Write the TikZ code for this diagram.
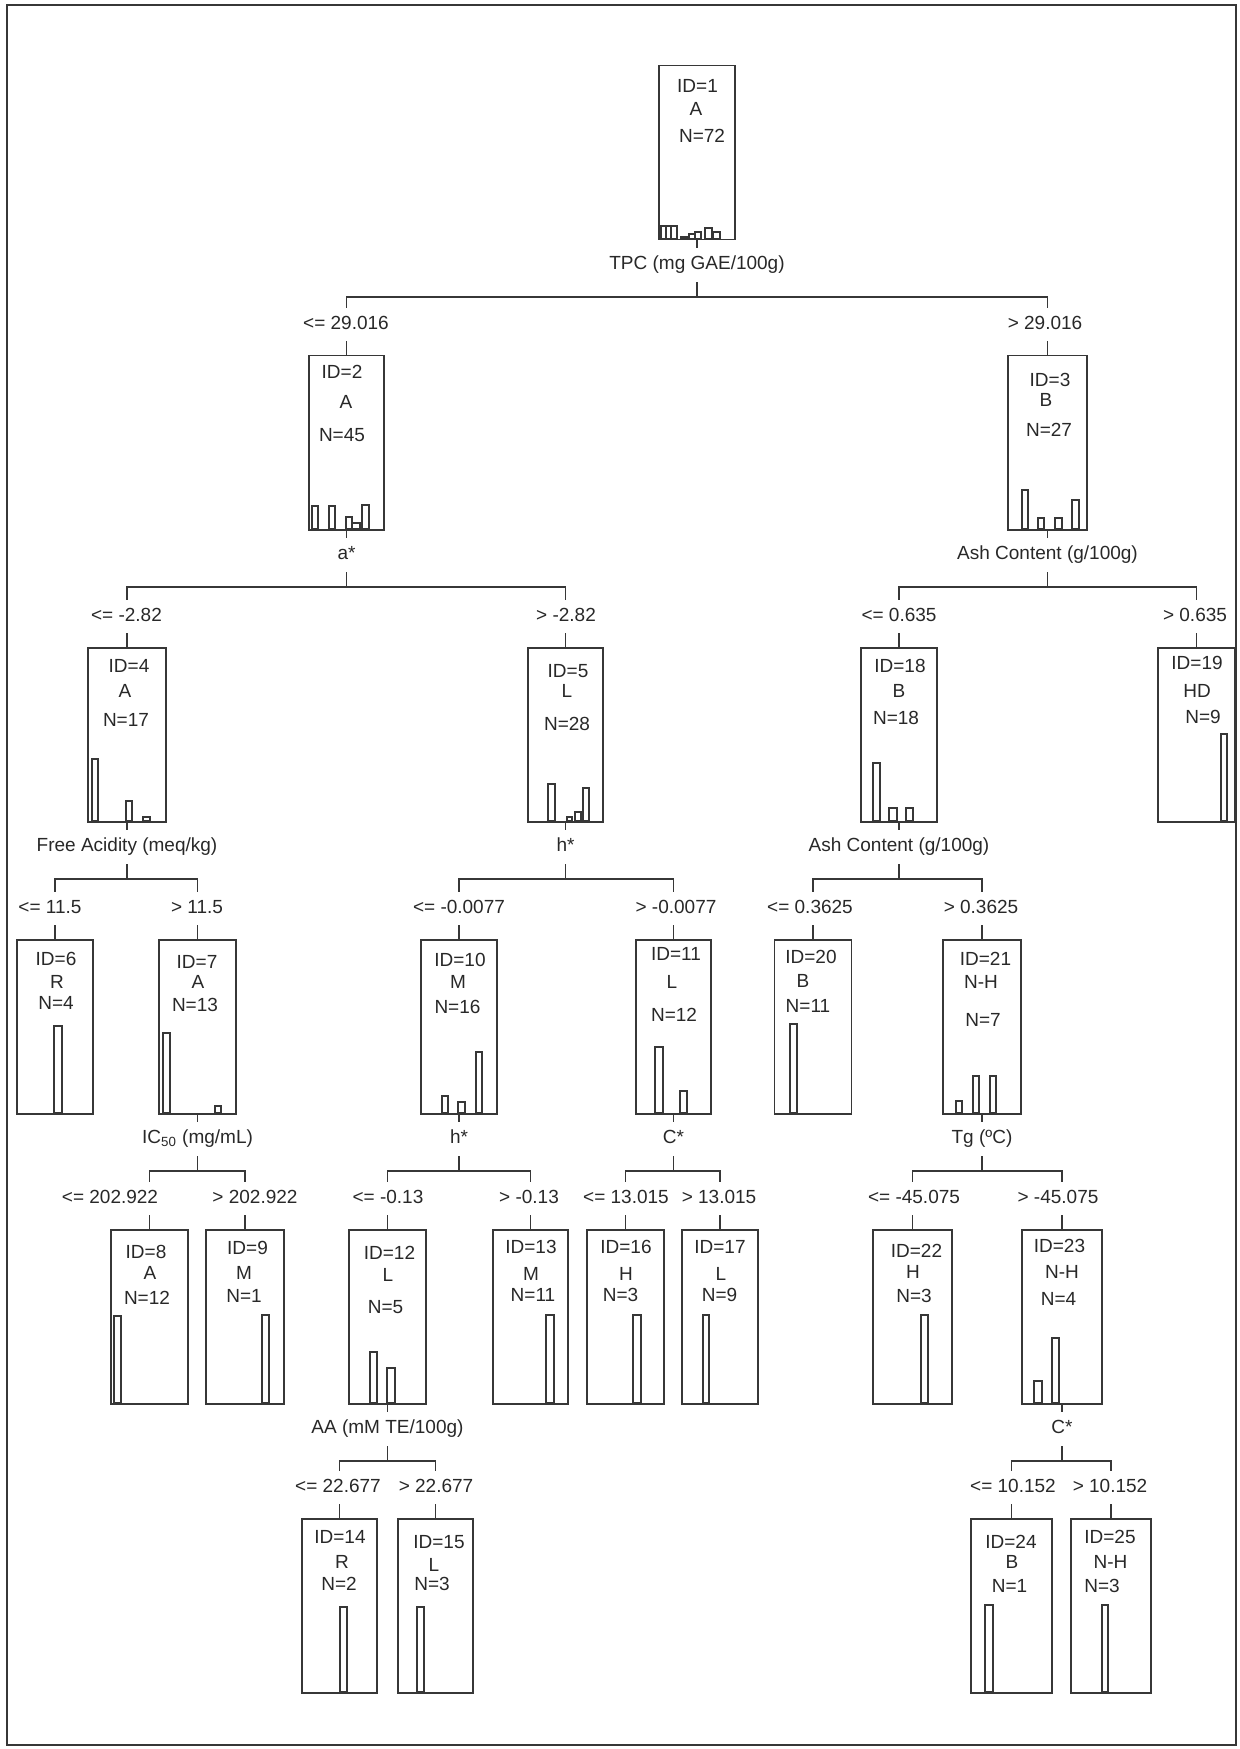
\documentclass[tikz,border=0pt]{standalone}
\usepackage{fontspec}
\setmainfont{Liberation Sans}
\definecolor{linec}{RGB}{55,55,55}
\definecolor{textc}{RGB}{40,40,40}
\newcommand\hb[4]{\draw[histbar] (#1,#4) rectangle (#2,{#4-#3});}
\begin{document}
\begin{tikzpicture}[x=0.5pt,y=-0.5pt,
  every node/.style={font=\fontsize{9.5}{11}\selectfont, text=textc},
  box/.style={draw=linec, line width=0.75pt, minimum height=87pt, inner sep=0pt, anchor=north},
  txt/.style={inner sep=0pt, anchor=center},
  split/.style={inner xsep=1pt, inner ysep=0pt, text height=6.8pt, text depth=2pt, minimum height=17pt},
  cond/.style={inner xsep=1pt, inner ysep=0pt, text height=6.8pt, text depth=2pt, minimum height=16.5pt},
  conn/.style={draw=linec, line width=0.75pt},
  histbar/.style={draw=linec, line width=0.6pt},
]
\useasboundingbox (0,0) rectangle (1239,1749);
\draw[linec, line width=0.8pt] (7,5) rectangle (1236,1745);

% ---------------- boxes ----------------
\node[box, minimum width=38pt]   (n1)  at (697,65) {};
\node[box, minimum width=37.5pt] (n2)  at (346.5,355) {};
\node[box, minimum width=39.5pt] (n3)  at (1047.5,355) {};
\node[box, minimum width=39pt]   (n4)  at (127,647) {};
\node[box, minimum width=37.5pt] (n5)  at (565.5,647) {};
\node[box, minimum width=38pt]   (n18) at (899,647) {};
\node[box, minimum width=38.5pt] (n19) at (1196.5,647) {};
\node[box, minimum width=38pt]   (n6)  at (55,939) {};
\node[box, minimum width=38.5pt] (n7)  at (197.5,939) {};
\node[box, minimum width=38pt]   (n10) at (459,939) {};
\node[box, minimum width=37.5pt] (n11) at (673.5,939) {};
\node[box, minimum width=38.5pt] (n20) at (813,939) {};
\node[box, minimum width=39pt]   (n21) at (982,939) {};
\node[box, minimum width=38.5pt] (n8)  at (149.5,1229) {};
\node[box, minimum width=39pt]   (n9)  at (245,1229) {};
\node[box, minimum width=38.5pt] (n12) at (387.5,1229) {};
\node[box, minimum width=37.5pt] (n13) at (530.5,1229) {};
\node[box, minimum width=38.5pt] (n16) at (625.5,1229) {};
\node[box, minimum width=38pt]   (n17) at (720,1229) {};
\node[box, minimum width=39.5pt] (n22) at (912.5,1229) {};
\node[box, minimum width=40pt]   (n23) at (1062,1229) {};
\node[box, minimum width=37.5pt] (n14) at (339.5,1518) {};
\node[box, minimum width=37.5pt] (n15) at (435.5,1518) {};
\node[box, minimum width=40.5pt] (n24) at (1011.5,1518) {};
\node[box, minimum width=40pt]   (n25) at (1111,1518) {};

% ---------------- box texts ----------------
\node[txt] (t1a) at (697.5,86) {ID=1};   \node[txt] (t1b) at (696,109) {A};   \node[txt] (t1c) at (702,136) {N=72};
\node[txt] (t2a) at (342,372) {ID=2};    \node[txt] (t2b) at (346,402) {A};   \node[txt] (t2c) at (342,435) {N=45};
\node[txt] (t3a) at (1050,380) {ID=3};   \node[txt] (t3b) at (1046,400) {B};  \node[txt] (t3c) at (1049,430) {N=27};
\node[txt] (t4a) at (129,666) {ID=4};    \node[txt] (t4b) at (125,691) {A};   \node[txt] (t4c) at (126,720) {N=17};
\node[txt] (t5a) at (568,671) {ID=5};    \node[txt] (t5b) at (567,691) {L};   \node[txt] (t5c) at (567,724) {N=28};
\node[txt] (t18a) at (900,666) {ID=18};  \node[txt] (t18b) at (899,691) {B};  \node[txt] (t18c) at (896,718) {N=18};
\node[txt] (t19a) at (1197,663) {ID=19}; \node[txt] (t19b) at (1197,691) {HD}; \node[txt] (t19c) at (1203,717) {N=9};
\node[txt] (t6a) at (56,959) {ID=6};     \node[txt] (t6b) at (57,982) {R};    \node[txt] (t6c) at (56,1003) {N=4};
\node[txt] (t7a) at (197,962) {ID=7};    \node[txt] (t7b) at (198,982) {A};   \node[txt] (t7c) at (195,1005) {N=13};
\node[txt] (t10a) at (460,960) {ID=10};  \node[txt] (t10b) at (458,982) {M};  \node[txt] (t10c) at (457.5,1007) {N=16};
\node[txt] (t11a) at (676,954) {ID=11};  \node[txt] (t11b) at (672,982) {L};  \node[txt] (t11c) at (674,1015) {N=12};
\node[txt] (t20a) at (811,957) {ID=20};  \node[txt] (t20b) at (803,981) {B};  \node[txt] (t20c) at (808,1006) {N=11};
\node[txt] (t21a) at (985.5,959) {ID=21}; \node[txt] (t21b) at (981,982) {N-H}; \node[txt] (t21c) at (983,1020) {N=7};
\node[txt] (t8a) at (146,1252) {ID=8};   \node[txt] (t8b) at (150,1273) {A};  \node[txt] (t8c) at (147,1298) {N=12};
\node[txt] (t9a) at (247.5,1248) {ID=9}; \node[txt] (t9b) at (244,1273) {M};  \node[txt] (t9c) at (244,1296) {N=1};
\node[txt] (t12a) at (389.5,1253) {ID=12}; \node[txt] (t12b) at (388,1275) {L}; \node[txt] (t12c) at (385.5,1307) {N=5};
\node[txt] (t13a) at (531,1247) {ID=13}; \node[txt] (t13b) at (531,1274) {M}; \node[txt] (t13c) at (533,1295) {N=11};
\node[txt] (t16a) at (626,1247) {ID=16}; \node[txt] (t16b) at (626,1274) {H}; \node[txt] (t16c) at (620.5,1295) {N=3};
\node[txt] (t17a) at (720,1247) {ID=17}; \node[txt] (t17b) at (721,1274) {L}; \node[txt] (t17c) at (719.5,1295) {N=9};
\node[txt] (t22a) at (916.5,1251) {ID=22}; \node[txt] (t22b) at (913,1272) {H}; \node[txt] (t22c) at (914,1296) {N=3};
\node[txt] (t23a) at (1059.5,1246) {ID=23}; \node[txt] (t23b) at (1062,1272) {N-H}; \node[txt] (t23c) at (1058.5,1299) {N=4};
\node[txt] (t14a) at (340,1537) {ID=14}; \node[txt] (t14b) at (342,1562) {R}; \node[txt] (t14c) at (339,1584) {N=2};
\node[txt] (t15a) at (439,1542) {ID=15}; \node[txt] (t15b) at (434,1565) {L}; \node[txt] (t15c) at (432,1584) {N=3};
\node[txt] (t24a) at (1011,1542) {ID=24}; \node[txt] (t24b) at (1012,1562) {B}; \node[txt] (t24c) at (1009.5,1586) {N=1};
\node[txt] (t25a) at (1110,1537) {ID=25}; \node[txt] (t25b) at (1110.5,1562) {N-H}; \node[txt] (t25c) at (1102,1586) {N=3};

% ---------------- histograms ----------------
% n1 (bottom 239)
\hb{661}{666}{13}{239}\hb{666}{671}{13}{239}\hb{671}{677}{13}{239}
\hb{681}{687}{2}{239}\hb{689}{695}{5}{239}\hb{695}{701}{7}{239}
\hb{705}{712}{11}{239}\hb{713}{720}{7}{239}
% n2 (bottom 529)
\hb{312}{318}{23}{529}\hb{329}{335}{23}{529}\hb{346}{352}{12}{529}\hb{352}{360}{6}{529}\hb{362}{369}{24}{529}
% n3
\hb{1022}{1028}{39}{529}\hb{1038}{1044}{11}{529}\hb{1055}{1062}{11}{529}\hb{1072}{1079}{29}{529}
% n4 (bottom 821)
\hb{92}{98}{62}{821}\hb{126}{132}{20}{821}\hb{143}{150}{4}{821}
% n5
\hb{548}{555}{37}{821}\hb{567}{572}{4}{821}\hb{575}{581}{9}{821}\hb{583}{589}{33}{821}
% n18
\hb{873}{880}{58}{821}\hb{889}{897}{13}{821}\hb{906}{913}{13}{821}
% n19
\hb{1221}{1227}{87}{821}
% n6 (bottom 1113)
\hb{54}{62}{87}{1113}
% n7
\hb{163}{170}{80}{1113}\hb{215}{221}{7}{1113}
% n10
\hb{442}{448}{17}{1113}\hb{458}{465}{11}{1113}\hb{476}{482}{61}{1113}
% n11
\hb{655}{663}{66}{1113}\hb{680}{687}{22}{1113}
% n20
\hb{790}{797}{89}{1113}
% n21
\hb{956}{962}{12}{1113}\hb{973}{979}{37}{1113}\hb{990}{996}{37}{1113}
% n8 (bottom 1403)
\hb{114}{121}{87}{1403}
% n9
\hb{262}{269}{88}{1403}
% n12
\hb{370}{377}{51}{1403}\hb{387}{395}{35}{1403}
% n13
\hb{546}{554}{88}{1403}
% n16
\hb{633}{641}{88}{1403}
% n17
\hb{703}{709}{88}{1403}
% n22
\hb{921}{928}{88}{1403}
% n23
\hb{1034}{1042}{22}{1403}\hb{1052}{1059}{65}{1403}
% n14 (bottom 1692)
\hb{340}{347}{85}{1692}
% n15
\hb{417}{424}{85}{1692}
% n24
\hb{985}{993}{87}{1692}
% n25
\hb{1102}{1108}{87}{1692}

% ---------------- split labels ----------------
\node[split] (s1)  at (697,265)    {TPC (mg GAE/100g)};
\node[split] (s2)  at (346.5,555)  {a*};
\node[split] (s3)  at (1047.5,555) {Ash Content (g/100g)};
\node[split] (s4)  at (127,847)    {Free Acidity (meq/kg)};
\node[split] (s5)  at (565.5,847)  {h*};
\node[split] (s18) at (899,847)    {Ash Content (g/100g)};
\node[split] (s7)  at (197.5,1139) {IC\textsubscript{50} (mg/mL)};
\node[split] (s10) at (459,1139)   {h*};
\node[split] (s11) at (673.5,1139) {C*};
\node[split] (s21) at (982,1139)   {Tg (ºC)};
\node[split] (s12) at (387.5,1429) {AA (mM TE/100g)};
\node[split] (s23) at (1062,1429)  {C*};

\coordinate (j1)  at (697,297);
\coordinate (j2)  at (346.5,587);
\coordinate (j3)  at (1047.5,587);
\coordinate (j4)  at (127,879);
\coordinate (j5)  at (565.5,879);
\coordinate (j18) at (899,879);
\coordinate (j7)  at (197.5,1171);
\coordinate (j10) at (459,1171);
\coordinate (j11) at (673.5,1171);
\coordinate (j21) at (982,1171);
\coordinate (j12) at (387.5,1461);
\coordinate (j23) at (1062,1461);

% ---------------- condition labels ----------------
\node[cond] (c2)  at (346,324.5)   {<= 29.016};
\node[cond] (c3)  at (1045,324.5)  {> 29.016};
\node[cond] (c4)  at (126.5,616.5) {<= -2.82};
\node[cond] (c5)  at (566,616.5)   {> -2.82};
\node[cond] (c18) at (899,616.5)   {<= 0.635};
\node[cond] (c19) at (1195,616.5)  {> 0.635};
\node[cond] (c6)  at (50,908.5)    {<= 11.5};
\node[cond] (c7)  at (197,908.5)   {> 11.5};
\node[cond] (c10) at (459,908.5)   {<= -0.0077};
\node[cond] (c11) at (676,908.5)   {> -0.0077};
\node[cond] (c20) at (810,908.5)   {<= 0.3625};
\node[cond] (c21) at (981,908.5)   {> 0.3625};
\node[cond] (c8)  at (110,1198.5)  {<= 202.922};
\node[cond] (c9)  at (255,1198.5)  {> 202.922};
\node[cond] (c12) at (388,1198.5)  {<= -0.13};
\node[cond] (c13) at (529,1198.5)  {> -0.13};
\node[cond] (c16) at (626,1198.5)  {<= 13.015};
\node[cond] (c17) at (719,1198.5)  {> 13.015};
\node[cond] (c22) at (914,1198.5)  {<= -45.075};
\node[cond] (c23) at (1058,1198.5) {> -45.075};
\node[cond] (c14) at (338,1487.5)  {<= 22.677};
\node[cond] (c15) at (436,1487.5)  {> 22.677};
\node[cond] (c24) at (1013,1487.5) {<= 10.152};
\node[cond] (c25) at (1110,1487.5) {> 10.152};

% ---------------- connectors ----------------
\foreach \p/\a/\b in {1/2/3, 2/4/5, 3/18/19, 4/6/7, 5/10/11, 18/20/21,
                      7/8/9, 10/12/13, 11/16/17, 21/22/23, 12/14/15, 23/24/25}{
  \draw[conn] (n\p.south) -- (s\p.north);
  \draw[conn] (s\p.south) -- (j\p);
  \draw[conn] (n\a.north |- c\a.north) -- (n\a.north |- j\p) -- (n\b.north |- j\p) -- (n\b.north |- c\b.north);
  \draw[conn] (n\a.north |- c\a.south) -- (n\a.north);
  \draw[conn] (n\b.north |- c\b.south) -- (n\b.north);
}
\end{tikzpicture}
\end{document}
